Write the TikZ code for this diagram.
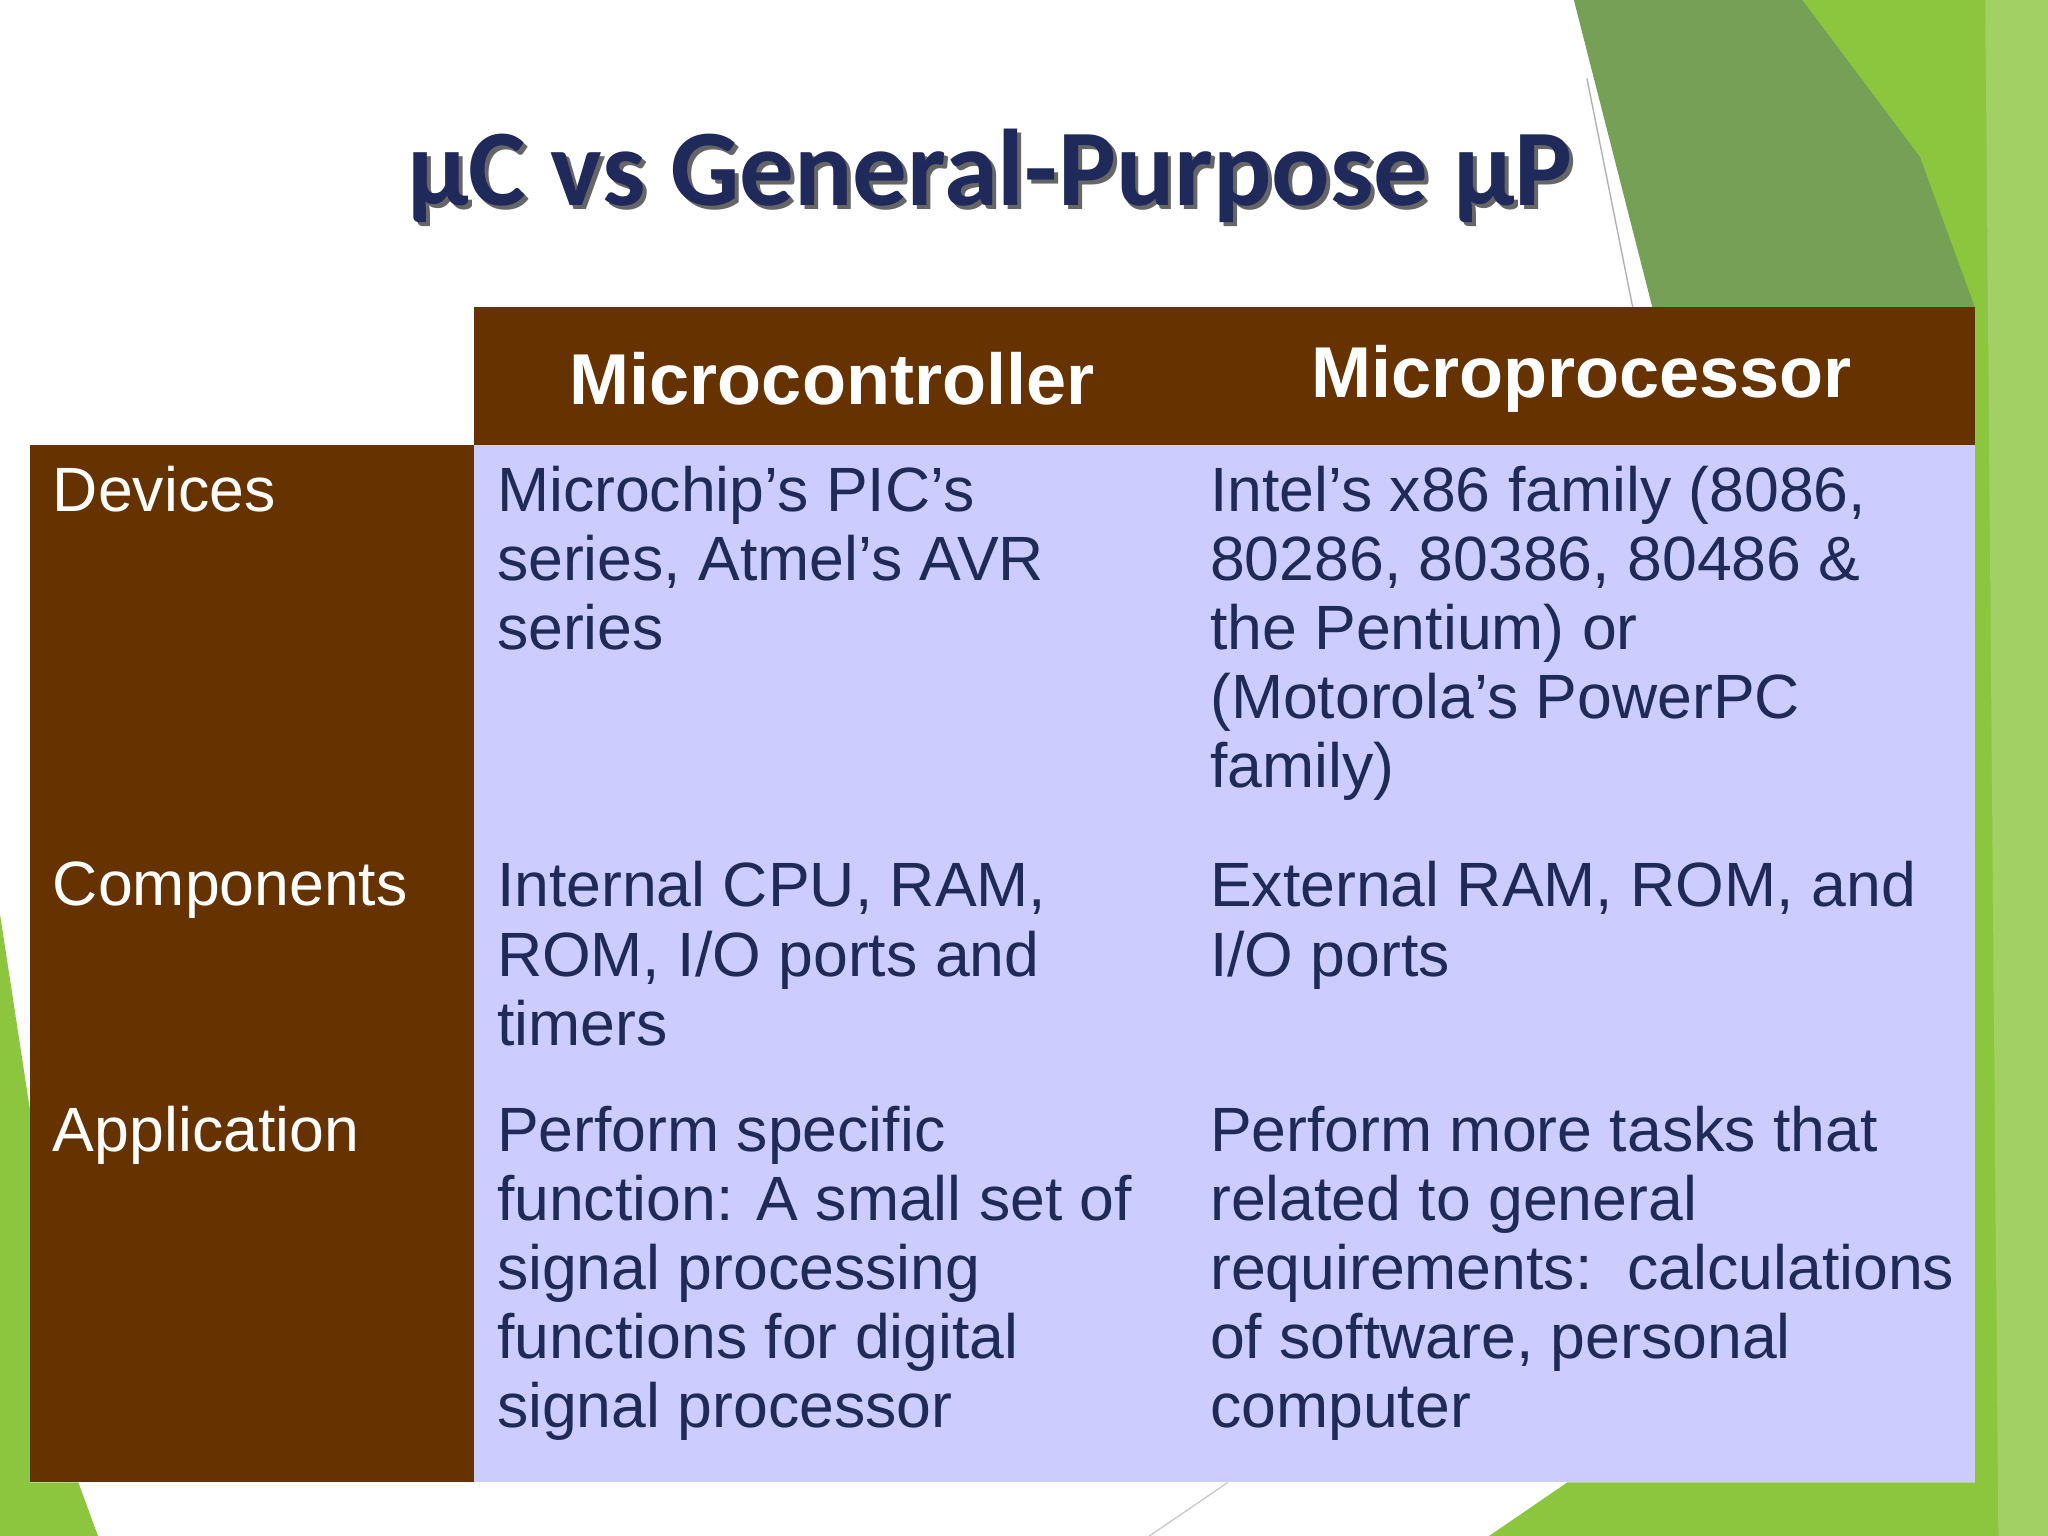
\documentclass[tikz,border=0pt]{standalone}
\usepackage{fontspec}
\setmainfont{Liberation Sans}
\newfontfamily\titlefont{Carlito}
\begin{document}
\begin{tikzpicture}[x=0.013061cm,y=-0.013061cm,
  cell/.style={anchor=north west,align=left,inner sep=0pt,font=\fontsize{17.8}{19.7}\selectfont,text=navy},
  lab/.style={anchor=north west,align=left,inner sep=0pt,font=\fontsize{17.8}{19.7}\selectfont,text=white},
  head/.style={text=white,font=\fontsize{20.5}{24}\selectfont\bfseries}]
\definecolor{navy}{HTML}{1F2A5A}
\definecolor{brown}{HTML}{663300}
\definecolor{lav}{HTML}{CCCCFF}
\definecolor{gA}{HTML}{76A055}
\definecolor{gB}{HTML}{8CC63F}
\definecolor{gC}{HTML}{A3D065}
\useasboundingbox (0,0) rectangle (1568,1176);
\fill[white] (0,0) rectangle (1568,1176);
% green decorations
\fill[gA] (1205,0) -- (1520,0) -- (1512,235) -- (1265,235) -- cycle;
\fill[gB] (1380,0) -- (1568,0) -- (1568,1176) -- (1512,1176) -- (1512,235) -- (1470,120) -- cycle;
\fill[gC] (1520,0) -- (1568,0) -- (1568,1176) -- (1530,1176) -- cycle;
\fill[gB] (1140,1176) -- (1200,1135) -- (1512,1135) -- (1512,1176) -- cycle;
\fill[gB] (0,700) -- (23,850) -- (23,1135) -- (60,1135) -- (75,1176) -- (0,1176) -- cycle;
\draw[gray!60] (1215,60) -- (1250,235);
\draw[gray!40] (880,1176) -- (940,1135);
% title
\node[text=black!60,font=\titlefont\fontsize{31}{36}\selectfont\bfseries] at (761,138) {µC vs General-Purpose µP};
\node[text=navy,font=\titlefont\fontsize{31}{36}\selectfont\bfseries] (title) at (758,135) {µC vs General-Purpose µP};
% table
\fill[brown] (363,235) rectangle (1512,341);
\fill[brown] (23,341) rectangle (363,1135);
\fill[lav] (363,341) rectangle (1512,1135);
\node[head] (h1) at (637,290) {Microcontroller};
\node[head] (h2) at (1211,290) {Microprocessor};
\node[lab] (l1) at (40,356) {Devices};
\node[lab] (l2) at (40,659) {Components};
\node[lab] (l3) at (40,846) {Application};
\node[cell] (a1) at (380,356) {Microchip’s PIC’s\\series, Atmel’s AVR\\series};
\node[cell] (b1) at (926,356) {Intel’s x86 family (8086,\\80286, 80386, 80486 \&\\the Pentium) or\\(Motorola’s PowerPC\\family)};
\node[cell] (a2) at (380,659) {Internal CPU, RAM,\\ROM, I/O ports and\\timers};
\node[cell] (b2) at (926,659) {External RAM, ROM, and\\I/O ports};
\node[cell] (a3) at (380,846) {Perform specific\\function: A small set of\\signal processing\\functions for digital\\signal processor};
\node[cell] (b3) at (926,846) {Perform more tasks that\\related to general\\requirements:\ \ calculations\\of software, personal\\computer};
\end{tikzpicture}
\end{document}
